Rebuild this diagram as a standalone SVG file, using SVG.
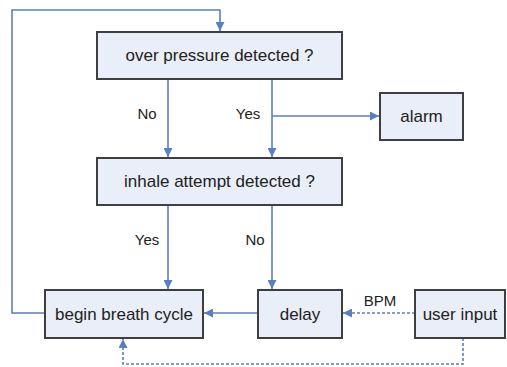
<svg xmlns="http://www.w3.org/2000/svg" width="507" height="367" viewBox="0 0 507 367">
<style>
.box{fill:#e9eef8;stroke:#3f3f3f;stroke-width:2}
.t{font-family:"Liberation Sans",Arial,sans-serif;font-size:17px;fill:#222;text-anchor:middle;dominant-baseline:central}
.l{font-family:"Liberation Sans",Arial,sans-serif;font-size:15px;fill:#222;text-anchor:middle;dominant-baseline:central}
.c{fill:none;stroke:#5a7fc0;stroke-width:1.6}
.d{stroke-dasharray:3,2}
</style>
<defs>
<marker id="a" viewBox="0 0 10 10" refX="10" refY="5" markerWidth="9" markerHeight="9" markerUnits="userSpaceOnUse" orient="auto">
<path d="M0,0 L10,5 L0,10 z" fill="#5a7fc0"/>
</marker>
</defs>
<g id="connectors">
<path class="c" d="M45,313 H12 V10 H220 V31" marker-end="url(#a)"/>
<path class="c" d="M168,79 V157" marker-end="url(#a)"/>
<path class="c" d="M272,79 V157" marker-end="url(#a)"/>
<path class="c" d="M272,116 H379" marker-end="url(#a)"/>
<path class="c" d="M168,205 V289" marker-end="url(#a)"/>
<path class="c" d="M272,205 V289" marker-end="url(#a)"/>
<path class="c" d="M258,313 H204" marker-end="url(#a)"/>
<path class="c d" d="M415,313 H343" marker-end="url(#a)"/>
<path class="c d" d="M463,338 V364 H123 V339" marker-end="url(#a)"/>
<text class="l" x="147" y="113">No</text>
<text class="l" x="248" y="113">Yes</text>
<text class="l" x="147" y="239">Yes</text>
<text class="l" x="255" y="239">No</text>
<text class="l" x="380" y="300">BPM</text>
</g>
<g id="over-pressure"><rect class="box" x="97" y="32" width="245" height="47"/><text class="t" x="219.5" y="55.5">over pressure detected ?</text></g>
<g id="alarm"><rect class="box" x="380" y="93" width="83" height="47"/><text class="t" x="421.5" y="116.5">alarm</text></g>
<g id="inhale"><rect class="box" x="97" y="158" width="245" height="47"/><text class="t" x="219.5" y="181.5">inhale attempt detected ?</text></g>
<g id="begin"><rect class="box" x="45" y="290" width="158" height="48"/><text class="t" x="124" y="314">begin breath cycle</text></g>
<g id="delay"><rect class="box" x="258" y="290" width="84" height="48"/><text class="t" x="300" y="314">delay</text></g>
<g id="user-input"><rect class="box" x="415" y="290" width="90" height="48"/><text class="t" x="460" y="314">user input</text></g>
</svg>
